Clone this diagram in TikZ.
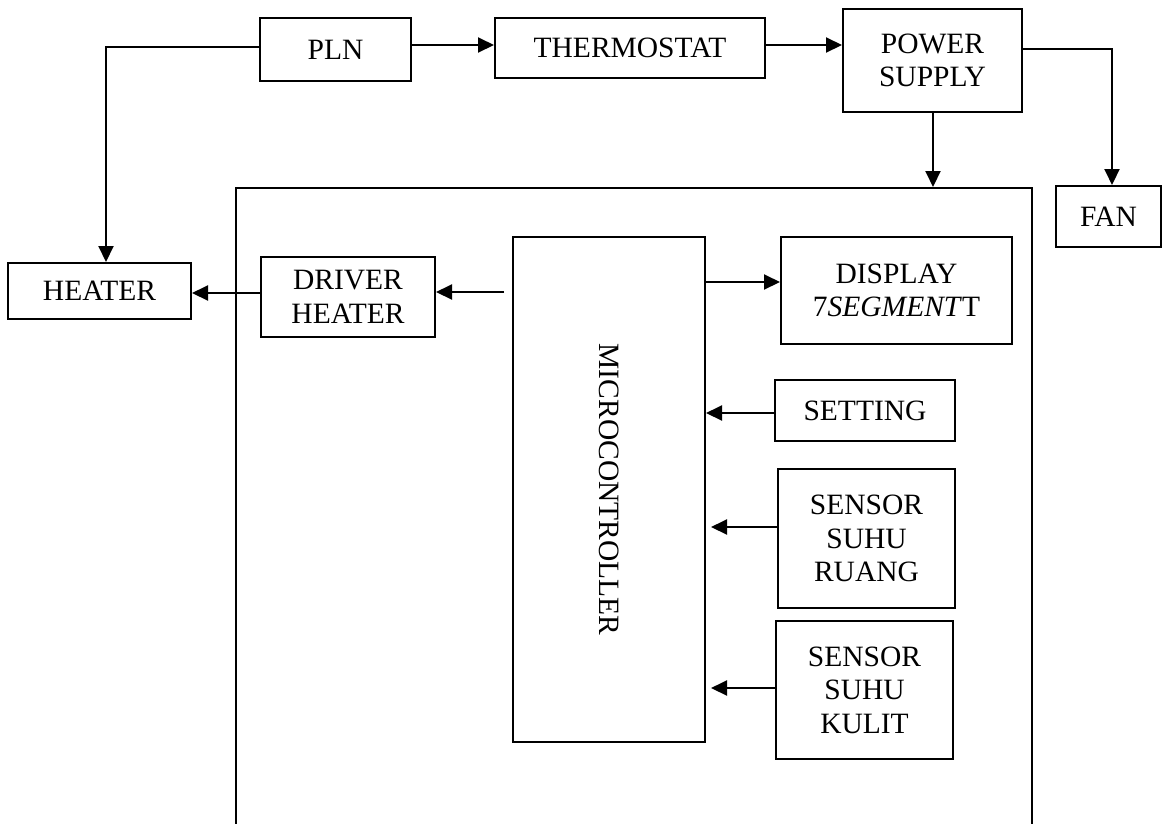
\documentclass[tikz,border=0pt]{standalone}
\usepackage{fontspec}
\setmainfont{Liberation Serif}
\usepackage{graphicx}
\usetikzlibrary{arrows.meta}
\begin{document}
\begin{tikzpicture}[x=1pt,y=-1pt,
  blk/.style={draw, line width=2pt, inner sep=0pt, align=center,
    font=\fontsize{29.5}{33.5}\selectfont},
  arr/.style={line width=2pt, -{Triangle[length=16pt,width=15pt]}}]
\useasboundingbox (0,0) rectangle (1166,823);
\clip (0,0) rectangle (1166,823);
% outer system box (bottom edge lies outside the picture)
\node[draw, line width=2pt, inner sep=0pt, minimum width=796pt, minimum height=700pt] (sys) at (634,538) {};
% blocks
\node[blk, minimum width=151pt, minimum height=63pt] (pln) at (335.5,49.5) {PLN};
\node[blk, minimum width=270pt, minimum height=60pt] (thermo) at (630,48) {THERMOSTAT};
\node[blk, minimum width=179pt, minimum height=103pt] (ps) at (932.5,60.5) {POWER\\SUPPLY};
\node[blk, minimum width=105pt, minimum height=61pt] (fan) at (1108.5,216.5) {FAN};
\node[blk, minimum width=183pt, minimum height=56pt] (heater) at (99.5,291) {HEATER};
\node[blk, minimum width=174pt, minimum height=80pt] (driver) at (348,297) {DRIVER\\HEATER};
\node[blk, minimum width=192pt, minimum height=505pt] (micro) at (609,489.5) {\rotatebox{-90}{MICROCONTROLLER}};
\node[blk, minimum width=231pt, minimum height=107pt] (display) at (896.5,290.5) {DISPLAY\\7\textit{SEGMENT}T};
\node[blk, minimum width=180pt, minimum height=61pt] (setting) at (865,410.5) {SETTING};
\node[blk, minimum width=177pt, minimum height=139pt] (ruang) at (866.5,538.5) {SENSOR\\SUHU\\RUANG};
\node[blk, minimum width=177pt, minimum height=138pt] (kulit) at (864.5,690) {SENSOR\\SUHU\\KULIT};
% helper coordinates
\coordinate (y45) at (0,45);
\coordinate (y47) at (0,47);
\coordinate (y49) at (0,49);
\coordinate (x106) at (106,0);
\coordinate (x933) at (933,0);
\coordinate (x1112) at (1112,0);
\coordinate (y282) at (0,282);
\coordinate (y293) at (0,293);
\coordinate (y413) at (0,413);
\coordinate (mstart) at (504,292);
\coordinate (rtip) at (711,527);
\coordinate (ktip) at (711,688);
% connectors
\draw[arr] (pln.east |- y45) -- (thermo.west |- y45);
\draw[arr] (thermo.east |- y45) -- (ps.west |- y45);
\draw[arr] (pln.west |- y47) -| (x106 |- heater.north);
\draw[arr] (ps.east |- y49) -| (x1112 |- fan.north);
\draw[arr] (x933 |- ps.south) -- (x933 |- sys.north);
\draw[arr] (mstart) -- (driver.east |- mstart);
\draw[arr] (driver.west |- y293) -- (heater.east |- y293);
\draw[arr] (micro.east |- y282) -- (display.west |- y282);
\draw[arr] (setting.west |- y413) -- (micro.east |- y413);
\draw[arr] (ruang.west |- rtip) -- (rtip);
\draw[arr] (kulit.west |- ktip) -- (ktip);
\end{tikzpicture}
\end{document}
